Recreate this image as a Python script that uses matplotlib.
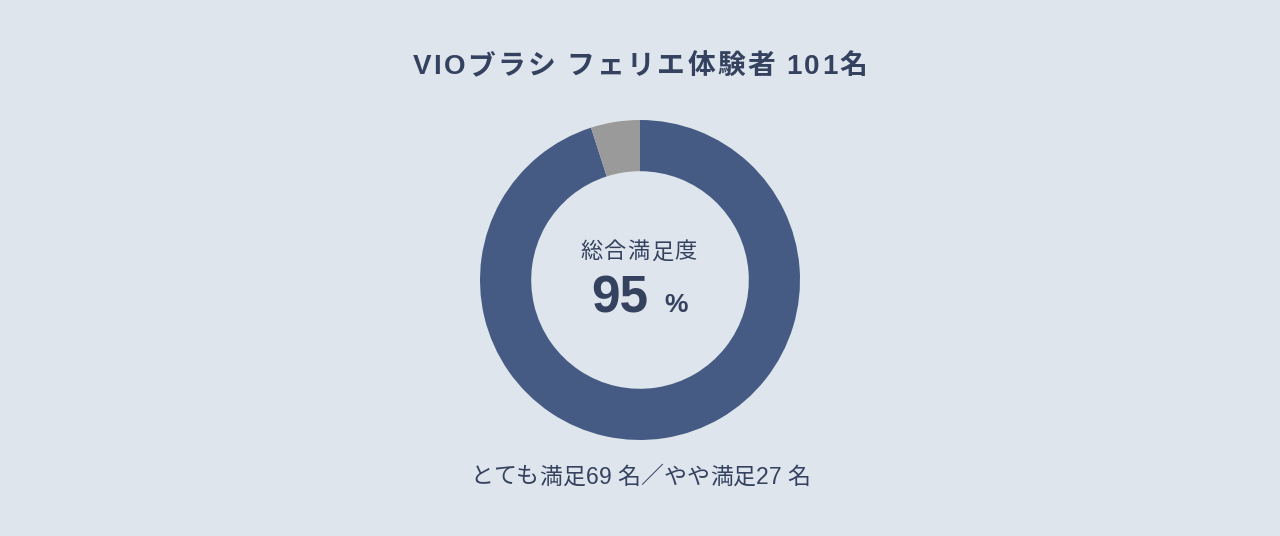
import matplotlib
matplotlib.use('Agg')
import matplotlib.pyplot as plt

plt.rcParams['font.family'] = ['Noto Sans CJK JP', 'DejaVu Sans']

labels = ['満足', 'その他']
counts = [96, 5]
colors = ['#465b83', '#9a9a9a']
title = 'VIOブラシ フェリエ体験者 101名'
center_label = '総合満足度'
center_value = '95'
footer = 'とても満足69 名／やや満足27 名'

bg = '#dfe5ed'
txt = '#34425f'
mixed = ['Liberation Sans', 'Noto Sans CJK JP']
W, H = 1280, 536

fig = plt.figure(figsize=(12.8, 5.36), dpi=100, facecolor=bg)
renderer = fig.canvas.get_renderer()


def spaced_text(cx, cy, s, width, **kw):
    # draw s centred at (cx, cy) pixels (from top), spread to a given pixel width
    parts = []
    for ch in s:
        t = fig.text(0, 0, ch, ha='left', va='center', **kw)
        w = t.get_window_extent(renderer).width if ch.strip() else kw.get('fontsize', 12) * 0.3
        parts.append((t, w))
    natural = sum(w for _, w in parts)
    gap = (width - natural) / max(len(parts) - 1, 1)
    x = cx - width / 2
    for t, w in parts:
        t.set_position((x / W, 1 - cy / H))
        x += w + gap


ax = fig.add_axes([480/W, 96/H, 320/W, 320/H])
ax.set_facecolor(bg)
ax.pie(counts, colors=colors, startangle=90, counterclock=False, radius=1,
       wedgeprops=dict(width=0.32, linewidth=0))
ax.set_aspect('equal')
ax.set_xlim(-1, 1)
ax.set_ylim(-1, 1)
ax.axis('off')

spaced_text(640, 67, title, 455, fontsize=20, fontweight='bold', color=txt,
            family=mixed)
spaced_text(638.5, 252, center_label, 117, fontsize=16, color=txt)
fig.text(620/W, 1 - 299/H, center_value, ha='center', va='center', fontsize=37,
         fontweight='bold', color=txt, family=mixed)
fig.text(676/W, 1 - 305/H, '%', ha='center', va='center', fontsize=19,
         fontweight='bold', color=txt, family=mixed)
spaced_text(640, 477, footer, 340, fontsize=16.5, color=txt, family=mixed)

fig.savefig('out.png', dpi=100, facecolor=bg)
